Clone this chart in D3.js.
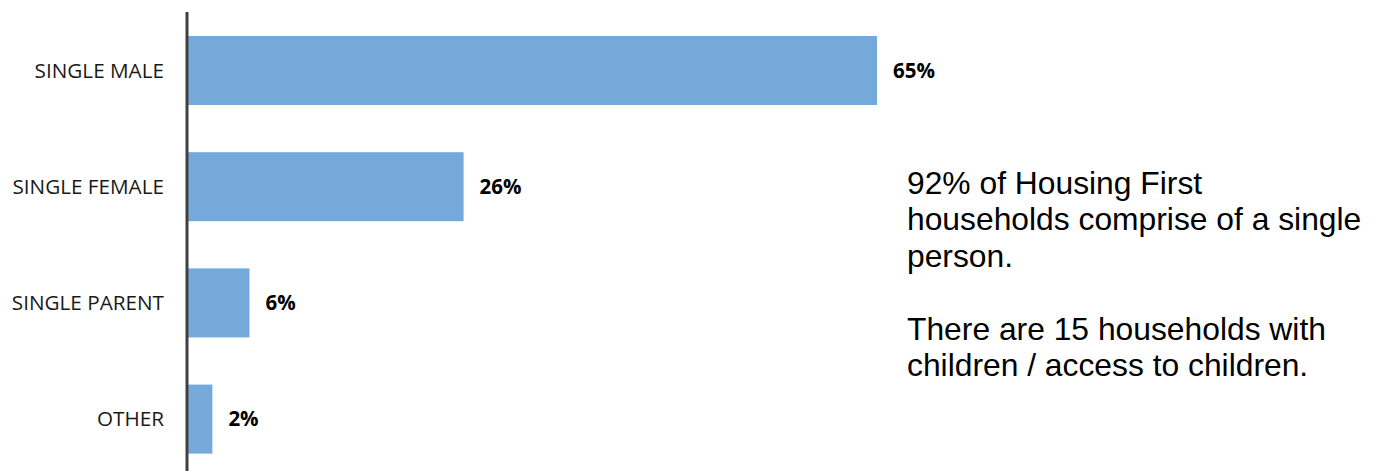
<!DOCTYPE html>
<html><head><meta charset="utf-8">
<script src="https://cdn.jsdelivr.net/npm/d3@7"></script>
<style>body{margin:0;background:#fff;} svg{display:block;}</style>
</head><body>
<svg id="chart" width="1380" height="471"></svg>
<script>
const categories = ["SINGLE MALE", "SINGLE FEMALE", "SINGLE PARENT", "OTHER"];
const values = [65, 26, 5.8, 2.3];
const valueLabels = ["65%", "26%", "6%", "2%"];
const noteLines = ["92% of Housing First", "households comprise of a single", "person.", "", "There are 15 households with", "children / access to children."];

const svg = d3.select("#chart");
const x0 = 188;
const x = d3.scaleLinear().domain([0, 65]).range([x0, 877]);
const y = d3.scaleBand().domain(categories).range([12.4, 477.2]).paddingInner(0.406).paddingOuter(0.203);

svg.selectAll("rect.bar").data(values).enter().append("rect")
  .attr("class", "bar")
  .attr("x", x(0))
  .attr("y", (d, i) => y(categories[i]))
  .attr("width", d => x(d) - x(0))
  .attr("height", y.bandwidth())
  .attr("fill", "#74a9da");

svg.append("line").attr("x1", x0 - 1).attr("x2", x0 - 1).attr("y1", 12).attr("y2", 471)
  .attr("stroke", "#404040").attr("stroke-width", 3);

svg.selectAll("text.cat").data(categories).enter().append("text")
  .attr("class", "cat")
  .attr("x", 164)
  .attr("y", d => y(d) + y.bandwidth() / 2)
  .attr("dy", "0.35em")
  .attr("text-anchor", "end")
  .attr("font-family", "Open Sans, sans-serif")
  .attr("font-size", 20.7)
  .attr("fill", "#1a1a1a")
  .text(d => d);

svg.selectAll("text.val").data(values).enter().append("text")
  .attr("class", "val")
  .attr("x", d => x(d) + 16)
  .attr("y", (d, i) => y(categories[i]) + y.bandwidth() / 2)
  .attr("dy", "0.35em")
  .attr("font-family", "Open Sans, sans-serif")
  .attr("font-weight", "bold")
  .attr("font-size", 20.5)
  .attr("fill", "#000")
  .text((d, i) => valueLabels[i]);

const note = svg.append("text")
  .attr("font-family", "Liberation Sans, Arial, sans-serif")
  .attr("font-size", 31.8)
  .attr("fill", "#000");
noteLines.forEach((t, i) => {
  note.append("tspan").attr("x", 907).attr("y", 193.5 + i * 36.5).text(t);
});
</script>
</body></html>
